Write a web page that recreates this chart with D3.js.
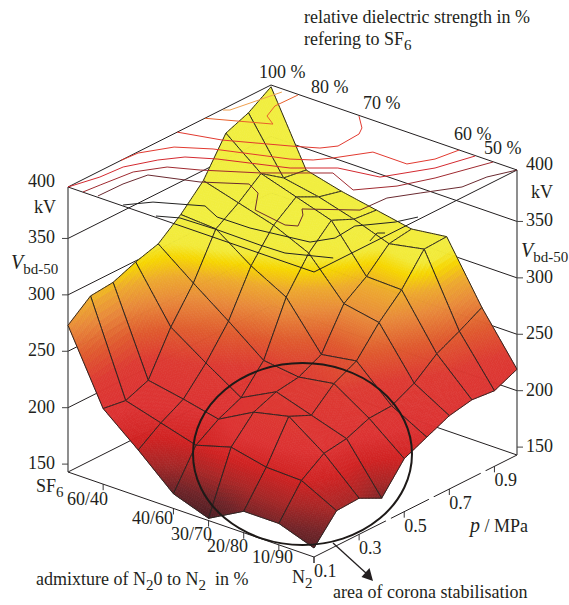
<!DOCTYPE html>
<html lang="en">
<head>
    <meta charset="UTF-8">
    <title>Vbd-50 surface</title>
    <script src="https://d3js.org/d3.v7.min.js"></script>
    <style>
        html, body { margin: 0; padding: 0; background: #fff; }
        text { font-family: "Liberation Serif", serif; font-size: 18px; fill: #231f20; white-space: pre; }
    </style>
</head>
<body>
<div id="chart"></div>

<script>
    // mixture axis, SF6 at the left corner and N2 at the front corner
    var mixtures = ["SF6", "60/40", "50/50", "40/60", "30/70", "20/80", "10/90", "N2"];
    var pressures = [0.1, 0.2, 0.3, 0.4, 0.5, 0.6, 0.7, 0.8, 0.9, 1.0];
    var kvTicks = [150, 200, 250, 300, 350, 400];
    var pTicks = [0.1, 0.3, 0.5, 0.7, 0.9];
    var mixTicks = ["60/40", "40/60", "30/70", "20/80", "10/90", "N2"];

    // breakdown voltage in kV, one row per mixture, one value per pressure
    var kvSF6 = [273, 289, 291, 299, 305, 321, 341, 373, 381, 394];
    var kv6040 = [210, 207, 215, 252, 281, 319, 332, 348, 334, 331];
    var kv5050 = [184, 198, 209, 231, 258, 297, 323, 338, 328, 323];
    var kv4060 = [156, 189, 202, 211, 234, 280, 309, 328, 319, 317];
    var kv3070 = [145, 198, 219, 227, 230, 240, 275, 289, 308, 311];
    var kv2080 = [162, 191, 226, 217, 235, 245, 269, 288, 314, 315];
    var kv1090 = [162, 190, 204, 207, 215, 216, 226, 242, 252, 263];
    var kvN2 = [151, 174, 175, 165, 190, 199, 208, 212, 210, 219];
    var surface = [kvSF6, kv6040, kv5050, kv4060, kv3070, kv2080, kv1090, kvN2];

    // relative strength contours on the top plane, [mixture fraction, pressure fraction]
    var c90 = [[0.004, 0.758], [0.021, 0.772], [0.060, 0.981]];
    var c80 = [[0, 0.674], [0.192, 0.777], [0.139, 0.812], [0.110, 0.886], [0.113, 0.996]];
    var c70 = [[0, 0.538], [0.146, 0.582], [0.338, 0.684], [0.420, 0.732], [0.454, 0.780], [0.447, 0.892], [0.425, 0.933], [0.361, 0.996]];
    var c60 = [[0, 0.261], [0.006, 0.338], [0.064, 0.445], [0.167, 0.512], [0.401, 0.608], [0.461, 0.649], [0.499, 0.700], [0.567, 0.815], [0.706, 0.814], [0.750, 0.899], [0.765, 1]];
    var c50 = [[0, 0], [0.029, 0.122], [0.037, 0.227], [0.087, 0.337], [0.138, 0.409], [0.225, 0.462], [0.444, 0.556], [0.559, 0.652], [0.704, 0.684], [0.793, 0.847], [0.832, 0.997]];
    var c45 = [[0.060, 0.001], [0.068, 0.076], [0.085, 0.218], [0.143, 0.315], [0.237, 0.364], [0.395, 0.467], [0.571, 0.613], [0.701, 0.555], [0.788, 0.666], [0.841, 0.789], [0.904, 0.998]];
    var c40 = [[0.115, 0.008], [0.118, 0.128], [0.135, 0.230], [0.294, 0.294], [0.422, 0.381], [0.487, 0.346], [0.561, 0.242], [0.705, 0.215], [0.741, 0.235], [0.700, 0.309], [0.669, 0.342], [0.814, 0.452], [0.821, 0.576], [0.877, 0.672], [0.949, 0.791], [0.961, 0.899], [1, 1]];
    var c35 = [[0.219, 0.006], [0.277, 0.083], [0.421, 0.165], [0.503, 0.125], [0.635, 0.127], [0.847, 0.166], [0.888, 0.240], [0.878, 0.349], [0.956, 0.453], [0.987, 0.528]];
    var c30 = [[0.351, 0.008], [0.418, 0.045], [0.567, 0.051], [0.741, 0.048], [0.839, 0.052], [0.979, 0.120]];
    var c25 = [[0.986, 0.292], [0.965, 0.353], [0.984, 0.369]];
    var contours = [c90, c80, c70, c60, c50, c45, c40, c35, c30, c25];
    var contourColors = ["#f0a050", "#e8602c", "#e23a30", "#e23a30", "#d42a30", "#a02a30", "#6a2a30", "#222", "#222", "#222"];

    // small breaks in the pressure axis line
    var pAxisBreaks = [0.43, 0.62, 0.85];

    var width = 569, height = 605;

    var svg = d3.select("#chart").append("svg")
        .attr("width", width)
        .attr("height", height)
        .style("display", "block");

    // oblique box: left floor corner, one step along each axis
    var originX = 68, originY = 472;
    var uX = d3.scaleLinear().domain([0, 1]).range([0, 246]);
    var uY = d3.scaleLinear().domain([0, 1]).range([0, 85]);
    var vX = d3.scaleLinear().domain([0, 1]).range([0, 203]);
    var vY = d3.scaleLinear().domain([0, 1]).range([0, -102]);
    var zY = d3.scaleLinear().domain([143, 395.6]).range([0, -285]);
    var kvTop = 395.6, kvFloor = 143;

    var mixScale = d3.scalePoint().domain(mixtures).range([0, 1]);
    var pScale = d3.scaleLinear().domain([0.1, 1]).range([0, 1]);

    function project(u, v, kv) {
        return [originX + uX(u) + vX(v), originY + uY(u) + vY(v) + zY(kv)];
    }

    var color = d3.scaleLinear()
        .domain([145, 160, 175, 190, 205, 230, 250, 270, 285, 297, 305, 320])
        .range(["#4a1f24", "#702428", "#a82626", "#d02222", "#dc3232", "#dd3a32", "#df5a2e", "#e8893a", "#eda92e", "#f6d600", "#f2ea3a", "#f1ee3f"])
        .clamp(true);

    var line = d3.line();

    // back walls, these sit behind the surface
    var walls = svg.append("g").attr("fill", "none").attr("stroke", "#231f20").attr("stroke-width", 1);
    [kvFloor, 200, 250, 300, 350].forEach(function(kv) {
        walls.append("path").attr("d", line([project(0, 0, kv), project(0, 1, kv), project(1, 1, kv)]));
    });
    walls.append("path").attr("d", line([project(0, 0, kvFloor), project(1, 0, kvFloor), project(1, 1, kvFloor)]));

    pAxisBreaks.forEach(function(p) {
        var v = pScale(p);
        svg.append("path")
            .attr("d", line([project(1, v - 0.012, kvFloor), project(1, v + 0.012, kvFloor)]))
            .attr("stroke", "#fff")
            .attr("stroke-width", 3);
    });

    // vertical axes
    var axes = svg.append("g").attr("fill", "none").attr("stroke", "#444");
    axes.append("path").attr("stroke-width", 1.2).attr("d", line([project(0, 0, kvFloor), project(0, 0, kvTop)]));
    axes.append("path").attr("stroke-width", 1.2).attr("d", line([project(1, 1, kvFloor), project(1, 1, kvTop)]));
    kvTicks.slice(0, 5).forEach(function(kv) {
        var a = project(0, 0, kv), b = project(1, 1, kv);
        axes.append("path").attr("d", line([a, [a[0] - 6, a[1]]]));
        axes.append("path").attr("d", line([b, [b[0] + 6, b[1]]]));
    });

    // floor ticks
    var floorTicks = svg.append("g").attr("fill", "none").attr("stroke", "#231f20").attr("stroke-width", 0.9);
    mixTicks.forEach(function(m) {
        var a = project(mixScale(m), 0, kvFloor);
        floorTicks.append("path").attr("d", line([a, [a[0], a[1] + 6]]));
    });
    pTicks.forEach(function(p) {
        var a = project(1, pScale(p), kvFloor);
        floorTicks.append("path").attr("d", line([a, [a[0], a[1] + 6]]));
    });

    // cells back to front, each one split up so the colour follows the height
    var cells = [];
    d3.range(mixtures.length - 1).forEach(function(i) {
        d3.range(pressures.length - 2, -1, -1).forEach(function(k) {
            cells.push({i: i, k: k});
        });
    });

    var steps = 16;

    function surfacePoint(c, s, t) {
        var u = mixScale(mixtures[c.i]) * (1 - s) + mixScale(mixtures[c.i + 1]) * s;
        var v = pScale(pressures[c.k]) * (1 - t) + pScale(pressures[c.k + 1]) * t;
        var kv = surface[c.i][c.k] * (1 - s) * (1 - t) + surface[c.i + 1][c.k] * s * (1 - t)
            + surface[c.i][c.k + 1] * (1 - s) * t + surface[c.i + 1][c.k + 1] * s * t;
        return {p: project(u, v, kv), kv: kv};
    }

    var cell = svg.append("g").selectAll("g.cell")
        .data(cells)
        .enter().append("g")
        .attr("class", "cell");

    cell.each(function(c) {
        var g = d3.select(this);
        d3.range(steps).forEach(function(a) {
            d3.range(steps).forEach(function(b) {
                var p0 = surfacePoint(c, a / steps, b / steps);
                var p1 = surfacePoint(c, (a + 1) / steps, b / steps);
                var p2 = surfacePoint(c, (a + 1) / steps, (b + 1) / steps);
                var p3 = surfacePoint(c, a / steps, (b + 1) / steps);
                var col = color((p0.kv + p1.kv + p2.kv + p3.kv) / 4);
                g.append("path")
                    .attr("d", line([p0.p, p1.p, p2.p, p3.p]) + "Z")
                    .attr("fill", col)
                    .attr("stroke", col)
                    .attr("stroke-width", 0.7);
            });
        });
        var edge = [];
        d3.range(steps + 1).forEach(function(a) { edge.push(surfacePoint(c, a / steps, 0).p); });
        d3.range(steps + 1).forEach(function(b) { edge.push(surfacePoint(c, 1, b / steps).p); });
        d3.range(steps, -1, -1).forEach(function(a) { edge.push(surfacePoint(c, a / steps, 1).p); });
        d3.range(steps, -1, -1).forEach(function(b) { edge.push(surfacePoint(c, 0, b / steps).p); });
        g.append("path")
            .attr("d", line(edge) + "Z")
            .attr("fill", "none")
            .attr("stroke", "#2a2523")
            .attr("stroke-width", 1);
    });

    // top plane and its contours lie over the surface
    var topPlane = svg.append("g").attr("fill", "none").attr("stroke-width", 1);
    topPlane.append("path")
        .attr("stroke", "#231f20")
        .attr("d", line([project(0, 0, kvTop), project(0, 1, kvTop), project(1, 1, kvTop), project(1, 0, kvTop)]) + "Z");

    topPlane.selectAll("path.contour")
        .data(contours)
        .enter().append("path")
        .attr("class", "contour")
        .attr("stroke", function(d, i) { return contourColors[i]; })
        .attr("d", function(d) {
            return line(d.map(function(q) { return project(q[0], q[1], kvTop); }));
        });

    // area of corona stabilisation
    svg.append("ellipse")
        .attr("cx", 302.5).attr("cy", 454)
        .attr("rx", 109.5).attr("ry", 91)
        .attr("fill", "none")
        .attr("stroke", "#1e1a18")
        .attr("stroke-width", 2);

    svg.append("path")
        .attr("d", "M333,543L367,574")
        .attr("stroke", "#231f20")
        .attr("stroke-width", 1.3);
    svg.append("path")
        .attr("d", "M373,581L361.5,577L369.5,568Z")
        .attr("fill", "#231f20");

    // text helper, a list of runs, sub drops the run and back lifts the next one again
    function label(x, y, runs, anchor) {
        var t = svg.append("text").attr("x", x).attr("y", y).attr("text-anchor", anchor || "start");
        runs.forEach(function(r) {
            var s = t.append("tspan").text(r.t);
            if (r.sub) s.attr("dy", 5).style("font-size", "15px");
            if (r.back) s.attr("dy", -5);
            if (r.it) s.style("font-style", "italic").style("font-size", "20px");
        });
        return t;
    }

    kvTicks.forEach(function(kv) {
        var a = project(0, 0, kv), b = project(1, 1, kv);
        label(55, a[1] + 5, [{t: String(kv)}], "end");
        label(526, b[1] + 5, [{t: String(kv)}]);
    });

    pTicks.forEach(function(p) {
        var a = project(1, pScale(p), kvFloor);
        label(a[0], a[1] + 20, [{t: String(p)}]);
    });

    label(67, 505, [{t: "60/40"}]);
    label(132, 524, [{t: "40/60"}]);
    label(171, 540, [{t: "30/70"}]);
    label(207, 552, [{t: "20/80"}]);
    label(252, 563, [{t: "10/90"}]);

    label(34, 213, [{t: "kV"}]);
    label(531, 198, [{t: "kV"}]);
    label(11, 269, [{t: "V", it: true}, {t: "bd-50", sub: true}]);
    label(521, 257, [{t: "V", it: true}, {t: "bd-50", sub: true}]);

    label(36, 492, [{t: "SF"}, {t: "6", sub: true}]);
    label(292, 583, [{t: "N"}, {t: "2", sub: true}]);

    label(259, 78, [{t: "100 %"}]);
    label(311, 93, [{t: "80 %"}]);
    label(363, 109, [{t: "70 %"}]);
    label(454, 140, [{t: "60 %"}]);
    label(484, 154, [{t: "50 %"}]);

    label(304, 23, [{t: "relative dielectric strength in %"}]);
    label(304, 45, [{t: "refering to SF"}, {t: "6", sub: true}]);
    label(470, 532, [{t: "p", it: true}, {t: " / MPa"}]);
    label(36, 585, [{t: "admixture of N"}, {t: "2", sub: true}, {t: "0 to N", back: true}, {t: "2", sub: true}, {t: "  in %", back: true}]);
    label(333, 598, [{t: "area of corona stabilisation"}]);
</script>
</body>
</html>
